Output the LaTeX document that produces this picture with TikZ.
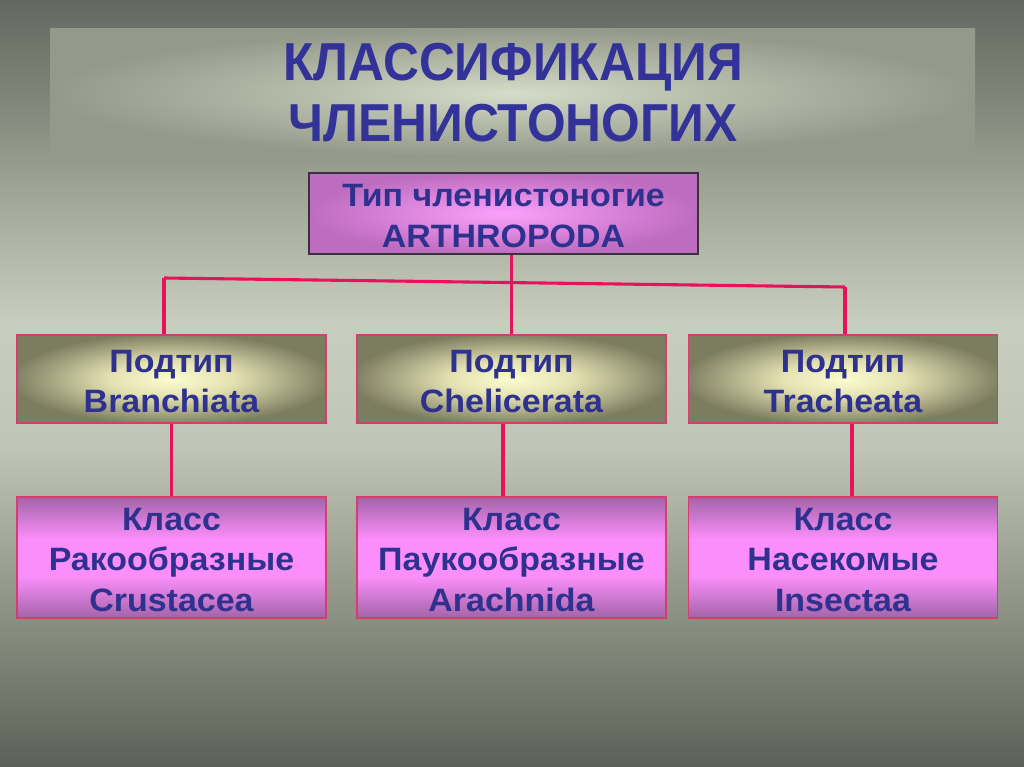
\documentclass[tikz,border=0pt]{standalone}
\usepackage{fontspec}
\setmainfont{Liberation Sans}
\newfontfamily\titlefont[FakeStretch=0.93]{Liberation Sans}
\newfontfamily\boxfont[FakeStretch=1.05]{Liberation Sans}
\usetikzlibrary{calc}
\newcommand\firstln{\rule{0pt}{19.3pt}}
\definecolor{txt}{RGB}{46,49,142}
\definecolor{ttl}{RGB}{50,50,152}
\definecolor{lnk}{RGB}{232,18,92}
\definecolor{pinkedge}{RGB}{214,60,110}
\definecolor{bgA}{RGB}{93,96,87}
\definecolor{bgB}{RGB}{140,145,131}
\definecolor{bgC}{RGB}{192,198,181}
\definecolor{bgD}{RGB}{200,206,189}
\definecolor{bgE}{RGB}{160,165,150}
\definecolor{bgF}{RGB}{122,126,115}
\definecolor{bgG}{RGB}{100,104,95}
\definecolor{bandin}{RGB}{214,220,200}
\definecolor{bandmid}{RGB}{185,191,173}
\definecolor{bandout}{RGB}{148,153,138}
\definecolor{topin}{RGB}{252,160,252}
\definecolor{topout}{RGB}{190,108,192}
\definecolor{midin}{RGB}{252,252,208}
\definecolor{midmid}{RGB}{228,226,178}
\definecolor{midout}{RGB}{124,124,96}
\definecolor{botdark}{RGB}{163,100,168}
\definecolor{botlight}{RGB}{252,142,252}
% TikZ fits the central 50bp x 50bp of a shading to the path
\pgfdeclareverticalshading{bgshade}{100bp}{color(0bp)=(bgA); color(25bp)=(bgA); color(35bp)=(bgB); color(46bp)=(bgC); color(54bp)=(bgD); color(62.5bp)=(bgE); color(70bp)=(bgF); color(75bp)=(bgG); color(100bp)=(bgG)}
\pgfdeclareradialshading{bandshade}{\pgfpoint{0bp}{0bp}}{color(0bp)=(bandin); color(10bp)=(bandmid); color(25bp)=(bandout); color(50bp)=(bandout)}
\pgfdeclareradialshading{topshade}{\pgfpoint{0bp}{0bp}}{color(0bp)=(topin); color(25bp)=(topout); color(50bp)=(topout)}
\pgfdeclareradialshading{midshade}{\pgfpoint{0bp}{0bp}}{color(0bp)=(midin); color(10bp)=(midmid); color(26bp)=(midout); color(50bp)=(midout)}
\pgfdeclareverticalshading{botshade}{100bp}{color(0bp)=(botdark); color(25bp)=(botdark); color(42.5bp)=(botlight); color(57.5bp)=(botlight); color(75bp)=(botdark); color(100bp)=(botdark)}
\tikzset{
  boxtext/.style={text=txt, align=center, inner sep=0pt,
    font=\boxfont\bfseries\fontsize{23}{29}\selectfont},
  topbox/.style={boxtext, shading=topshade, draw={rgb,255:red,55;green,50;blue,60}, line width=0.9pt,
    minimum width=9.725cm, minimum height=2.025cm},
  midbox/.style={boxtext, shading=midshade, draw=pinkedge, line width=0.9pt,
    minimum width=7.725cm, minimum height=2.2cm},
  botbox/.style={boxtext, shading=botshade, draw=pinkedge, line width=0.9pt,
    minimum width=7.725cm, minimum height=3.025cm},
  link/.style={draw=lnk, line width=2.8pt},
  hlink/.style={draw=lnk, line width=2.2pt}
}
\begin{document}
\begin{tikzpicture}[x=0.025cm, y=-0.025cm]
\shade[shading=bgshade] (0,0) rectangle (1024,767);
\useasboundingbox (0,0) rectangle (1024,767);
\shade[shading=bandshade] (50,29) rectangle (975,157);
\node[text=ttl, align=center, inner sep=0pt,
  font=\titlefont\bfseries\fontsize{38}{43.4}\selectfont] (title) at (513,93)
  {КЛАССИФИКАЦИЯ\\ЧЛЕНИСТОНОГИХ};
\node[topbox] (top) at (503.5,213.5) {\firstln Тип членистоногие\\ARTHROPODA};
\node[midbox] (m1) at (171.5,379) {\firstln Подтип\\Branchiata};
\node[midbox] (m2) at (511.5,379) {\firstln Подтип\\Chelicerata};
\node[midbox] (m3) at (843,379) {\firstln Подтип\\Tracheata};
\node[botbox] (b1) at (171.5,557.5) {\firstln Класс\\Ракообразные\\Crustacea};
\node[botbox] (b2) at (511.5,557.5) {\firstln Класс\\Паукообразные\\Arachnida};
\node[botbox] (b3) at (843,557.5) {\firstln Класс\\Насекомые\\Insectaa};
\coordinate (hl) at (164,278);
\coordinate (hr) at (845,287);
\draw[link] (m2.north) -- (m2.north |- top.south);
\draw[hlink] (hl) -- (hr);
\draw[link] (hl) -- (hl |- m1.north);
\draw[link] (hr) -- (hr |- m3.north);
\draw[link] (m1.south) -- (b1.north);
\draw[link] ($(m2.south)+(-8.5,0)$) -- ($(b2.north)+(-8.5,0)$);
\draw[link] ($(m3.south)+(9,0)$) -- ($(b3.north)+(9,0)$);
\end{tikzpicture}
\end{document}
